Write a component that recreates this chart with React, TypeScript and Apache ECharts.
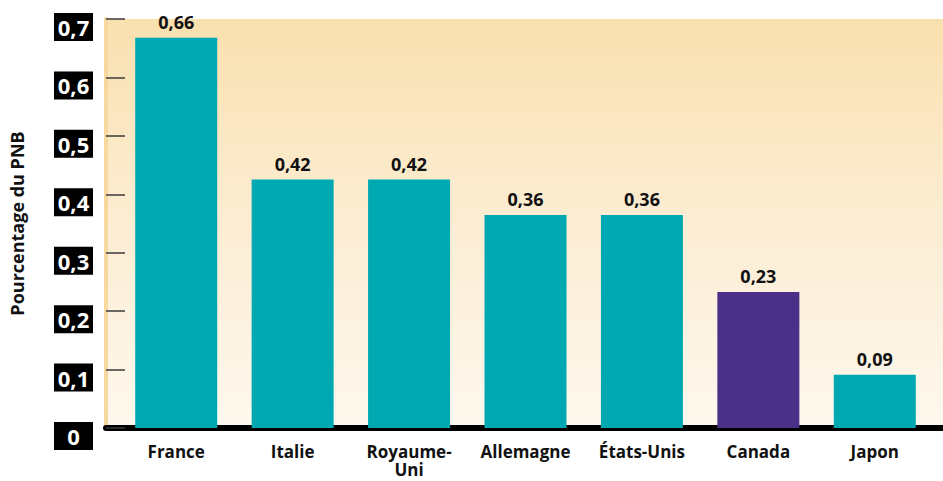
import React, { useEffect, useRef } from "react";
import * as echarts from "echarts";

const categories = ["France", "Italie", "Royaume-\nUni", "Allemagne", "États-Unis", "Canada", "Japon"];
const values = [0.66, 0.42, 0.42, 0.36, 0.36, 0.23, 0.09];
const highlight = "Canada";
const yTicks = [0, 0.1, 0.2, 0.3, 0.4, 0.5, 0.6, 0.7];
const yTitle = "Pourcentage du PNB";

const TEAL = "#00A9B1";
const PURPLE = "#4A3187";
const FONT = "'Open Sans', 'Noto Sans', sans-serif";

const fmt = (v: number) => (v === 0 ? "0" : String(v).replace(".", ","));

export default function App() {
  const ref = useRef<HTMLDivElement>(null);
  useEffect(() => {
    if (!ref.current) return;
    const chart = echarts.init(ref.current, undefined, { renderer: "svg" });
    chart.setOption({
      animation: false,
      grid: [
        { left: 118, right: 10, top: 14, bottom: 53 },
        {
          left: 99, right: 0, top: 14, bottom: 53, show: true, borderWidth: 0,
          backgroundColor: new echarts.graphic.LinearGradient(0, 0, 0, 1, [
            { offset: 0, color: "#F9E0AF" },
            { offset: 0.5, color: "#FCEDD3" },
            { offset: 1, color: "#FEF8EE" },
          ]),
        },
      ],
      xAxis: [
        {
          type: "category", gridIndex: 0, data: categories,
          axisLine: { show: false }, axisTick: { show: false },
          axisLabel: { color: "#111", fontFamily: FONT, fontWeight: "bold", fontSize: 17, margin: 14, lineHeight: 18, interval: 0 },
        },
        {
          type: "value", gridIndex: 1, min: 0, max: 1, show: true,
          axisLine: { show: true, onZero: false, lineStyle: { color: "#000", width: 6 } },
          axisTick: { show: false }, axisLabel: { show: false }, splitLine: { show: false },
        },
      ],
      yAxis: [
        { type: "value", gridIndex: 0, min: 0, max: 0.7, show: false },
        {
          type: "value", gridIndex: 1, min: 0, max: 0.7, interval: 0.1,
          name: yTitle, nameLocation: "middle", nameGap: 80,
          nameTextStyle: { color: "#111", fontFamily: FONT, fontWeight: "bold", fontSize: 18 },
          axisLine: { show: true, lineStyle: { color: "#F7D89E", width: 4 } },
          axisTick: { show: true, inside: true, length: 19, lineStyle: { color: "#3a3a3a", width: 1.5 } },
          splitLine: { show: false },
          axisLabel: {
            margin: 13,
            formatter: (v: number) => {
              const t = yTicks.find((x) => Math.abs(x - v) < 1e-6);
              return "{s| }\n{a|" + fmt(t ?? v) + "}";
            },
            rich: {
              s: { height: 16, fontSize: 10 },
              a: {
                backgroundColor: "#000", color: "#fff", fontFamily: FONT, fontWeight: "bold",
                fontSize: 22, height: 28, lineHeight: 28, width: 39, align: "center",
              },
            },
          },
        },
      ],
      series: [
        {
          type: "bar", xAxisIndex: 0, yAxisIndex: 0, barWidth: 82, z: 3,
          data: values.map((v, i) => ({
            value: v,
            itemStyle: { color: categories[i] === highlight ? PURPLE : TEAL },
          })),
          label: {
            show: true, position: "top", distance: 7,
            formatter: (p: any) => fmt(p.value),
            color: "#111", fontFamily: FONT, fontWeight: "bold", fontSize: 18,
          },
        },
      ],
    });
    return () => chart.dispose();
  }, []);
  return <div ref={ref} style={{ width: 943, height: 481, position: "absolute", left: 0, top: 0 }} />;
}
